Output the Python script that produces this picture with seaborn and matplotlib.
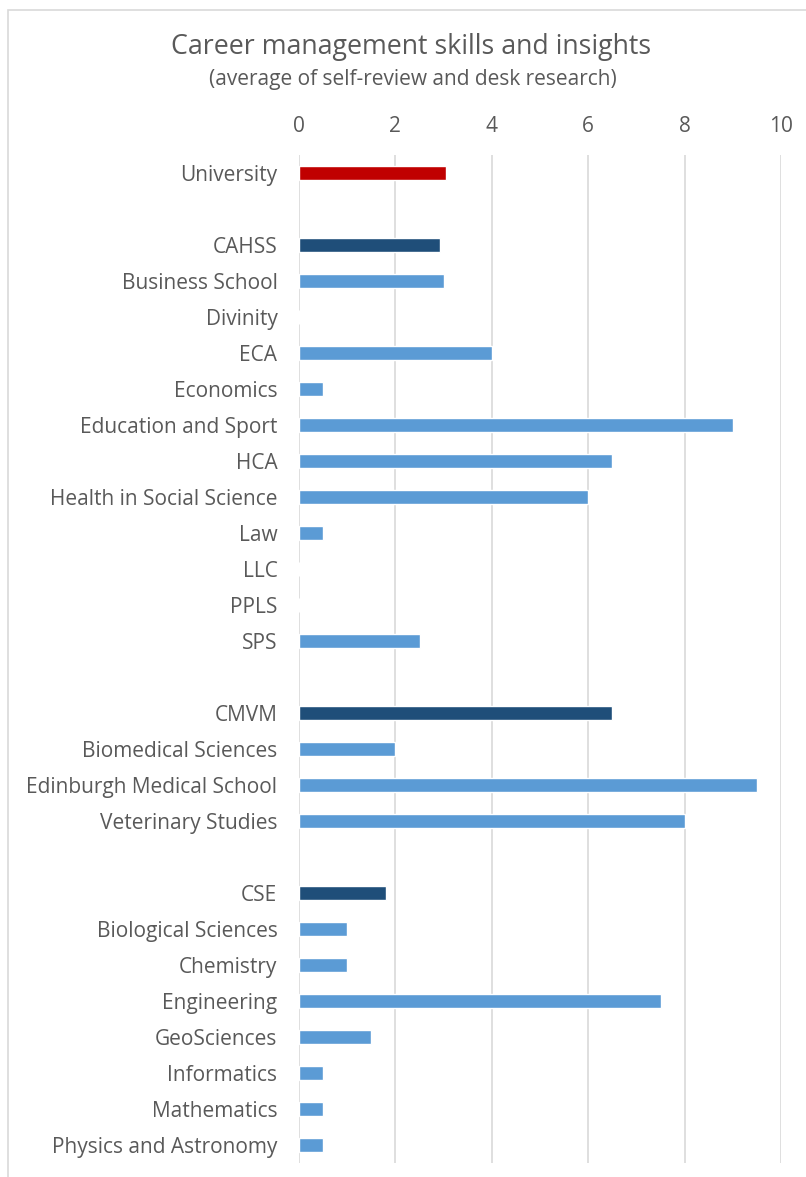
import matplotlib
matplotlib.use("Agg")
import matplotlib.pyplot as plt
from matplotlib.patches import Rectangle
import seaborn as sns
import pandas as pd
import numpy as np

# Category rows, top to bottom (blank strings are spacer rows between colleges)
categories = [
    "University", " ",
    "CAHSS", "Business School", "Divinity", "ECA", "Economics",
    "Education and Sport", "HCA", "Health in Social Science", "Law",
    "LLC", "PPLS", "SPS", "  ",
    "CMVM", "Biomedical Sciences", "Edinburgh Medical School",
    "Veterinary Studies", "   ",
    "CSE", "Biological Sciences", "Chemistry", "Engineering",
    "GeoSciences", "Informatics", "Mathematics", "Physics and Astronomy",
]
scores = [
    3.05, np.nan,
    2.93, 3.0, 0.0, 4.0, 0.5,
    9.0, 6.5, 6.0, 0.5,
    0.0, 0.0, 2.5, np.nan,
    6.5, 2.0, 9.5,
    8.0, np.nan,
    1.8, 1.0, 1.0, 7.5,
    1.5, 0.5, 0.5, 0.5,
]
levels = [
    "university", "spacer",
    "college", "school", "school", "school", "school",
    "school", "school", "school", "school",
    "school", "school", "school", "spacer",
    "college", "school", "school",
    "school", "spacer",
    "college", "school", "school", "school",
    "school", "school", "school", "school",
]
x_ticks = [0, 2, 4, 6, 8, 10]

level_colors = {
    "university": "#C00000",
    "college": "#1F4E79",
    "school": "#5B9BD5",
    "spacer": "#FFFFFF",
}

df = pd.DataFrame({"category": categories, "score": scores, "level": levels})

sns.set_style("white")
plt.rcParams["font.family"] = ["Open Sans", "DejaVu Sans"]
text_color = "#595959"

fig = plt.figure(figsize=(8.06, 11.77), dpi=100)
W, H = 806, 1177
ax = fig.add_axes([299 / W, 1 - 1163 / H, (781 - 299) / W, (1163 - 155) / H])

sns.barplot(
    data=df, x="score", y="category", hue="level", order=categories,
    palette=level_colors, dodge=False, width=0.38, legend=False,
    saturation=1, ax=ax,
)

ax.set_xlim(0, 10)
ax.set_ylim(len(categories) - 0.5, -0.5)
ax.set_xticks(x_ticks)
ax.xaxis.tick_top()
ax.tick_params(axis="x", length=0, pad=13, labelsize=15, labelcolor=text_color)
ax.tick_params(axis="y", length=0, pad=15.5, labelsize=15, labelcolor=text_color)
ax.set_xlabel("")
ax.set_ylabel("")
ax.grid(axis="x", color="#D9D9D9", linewidth=1.2)
ax.set_axisbelow(True)
for s in ax.spines.values():
    s.set_visible(False)

fig.text(411 / W, 1 - 47 / H, "Career management skills and insights",
         ha="center", va="center", fontsize=19.3, color=text_color)
fig.text(413 / W, 1 - 80 / H, "(average of self-review and desk research)",
         ha="center", va="center", fontsize=15, color=text_color)

# Chart area frame
fig.patches.append(Rectangle((8 / W, -0.05), 1.0, 1 - 10 / H + 0.05,
                             transform=fig.transFigure, fill=False,
                             edgecolor="#D9D9D9", linewidth=1.2))

fig.savefig("out.png", dpi=100)
